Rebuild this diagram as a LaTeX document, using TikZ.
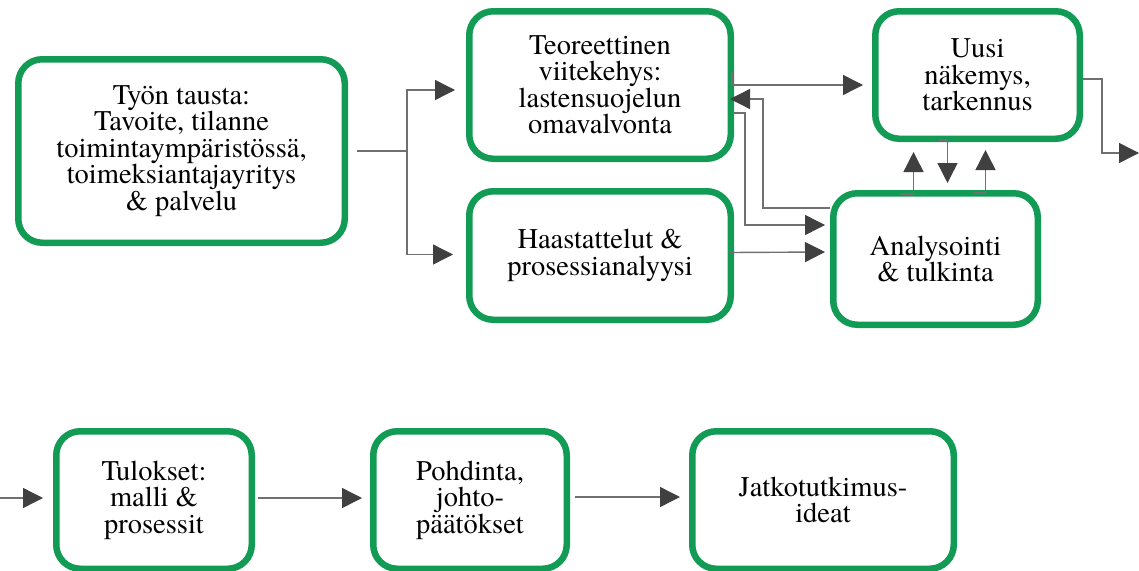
\documentclass[tikz,border=0pt]{standalone}
\usepackage{fontspec}
\setmainfont{TeX Gyre Termes}
\usetikzlibrary{arrows.meta,calc}
\definecolor{boxgreen}{RGB}{18,155,84}
\definecolor{linegray}{RGB}{112,112,112}
\definecolor{tipgray}{RGB}{64,64,64}
\tikzset{
  box/.style={draw=boxgreen, line width=6.5pt, rounded corners=24pt, fill=white,
    align=center, inner sep=0pt, font=\fontsize{28.5}{26.5}\selectfont},
  flow/.style={draw=linegray, line width=1.4pt,
    -{Triangle[length=20pt,width=20pt,color=tipgray]}},
}
\begin{document}
\begin{tikzpicture}[x=1pt,y=1pt,yscale=-1,xscale=1]
\useasboundingbox (0,0) rectangle (1139,570);

%Rounded Rect: upper row
\node[box, minimum width=326.5, minimum height=183.5] (tausta) at (181.5,151)
  {Työn tausta:\\Tavoite, tilanne\\toimintaympäristössä,\\toimeksiantajayritys\\\& palvelu};
\node[box, minimum width=261.5, minimum height=147.5] (teoria) at (600,85)
  {Teoreettinen\\viitekehys:\\lastensuojelun\\omavalvonta};
\node[box, minimum width=261.5, minimum height=128.5] (haast) at (600,255.5)
  {Haastattelut \&\\prosessianalyysi};
\node[box, minimum width=204.5, minimum height=127.5] (uusi) at (977.5,75)
  {Uusi\\näkemys,\\tarkennus};
\node[box, minimum width=204.5, minimum height=131.5] (ana) at (935.5,259)
  {Analysointi\\\& tulkinta};

%Rounded Rect: lower row
\node[box, minimum width=195.5, minimum height=137.5] (tulos) at (154,500)
  {Tulokset:\\malli \&\\prosessit};
\node[box, minimum width=193.5, minimum height=137.5] (pohd) at (470,500)
  {Pohdinta,\\johto-\\päätökset};
\node[box, minimum width=261.5, minimum height=137.5] (jatko) at (823,500)
  {Jatkotutkimus-\\ideat};

%free ends
\coordinate (ulos) at (1139,153);
\coordinate (sisaan) at (0,498);

%Connectors
\draw[flow] ([xshift=9pt]tausta.east) -- ++(50,0) |- ($(teoria.west)+(-11,5)$);
\draw[flow] ([xshift=9pt]tausta.east) -- ++(50,0) |- ($(haast.west)+(-13,-1)$);
\draw[flow] ($(teoria.east)+(-2,-13)$) |- ($(uusi.west)+(-9,10)$);
\draw[flow] ($(ana.north west)+(0,18)$) -- ++(-67,0) |- ($(teoria.east)+(-4,14)$);
\draw[flow] ($(teoria.east)+(-1,28)$) -- ++(12,0) |- ($(ana.west)+(-5,-34)$);
\draw[flow] ($(haast.east)+(-4,-3)$) -- ($(ana.west)+(-5,-7)$);
\draw[flow] ($(ana.north)+(-35,4)$) -| ($(uusi.south)+(-64,10)$);
\draw[flow] ($(uusi.south)+(-40,-2)$) -| ($(ana.north)+(12,-7)$);
\draw[flow] ($(ana.north)+(38,3)$) -| ($(uusi.south)+(8,8)$);
\draw[flow] ($(uusi.east)+(0,4)$) -- ++(19,0) |- (ulos);
\draw[flow] (sisaan) -- ($(tulos.west)+(-10,-2)$);
\draw[flow] ($(tulos.east)+(3,-2)$) -- ($(pohd.west)+(-8,-2)$);
\draw[flow] ($(pohd.east)+(5,-3)$) -- ($(jatko.west)+(-9,-3)$);
\end{tikzpicture}
\end{document}
